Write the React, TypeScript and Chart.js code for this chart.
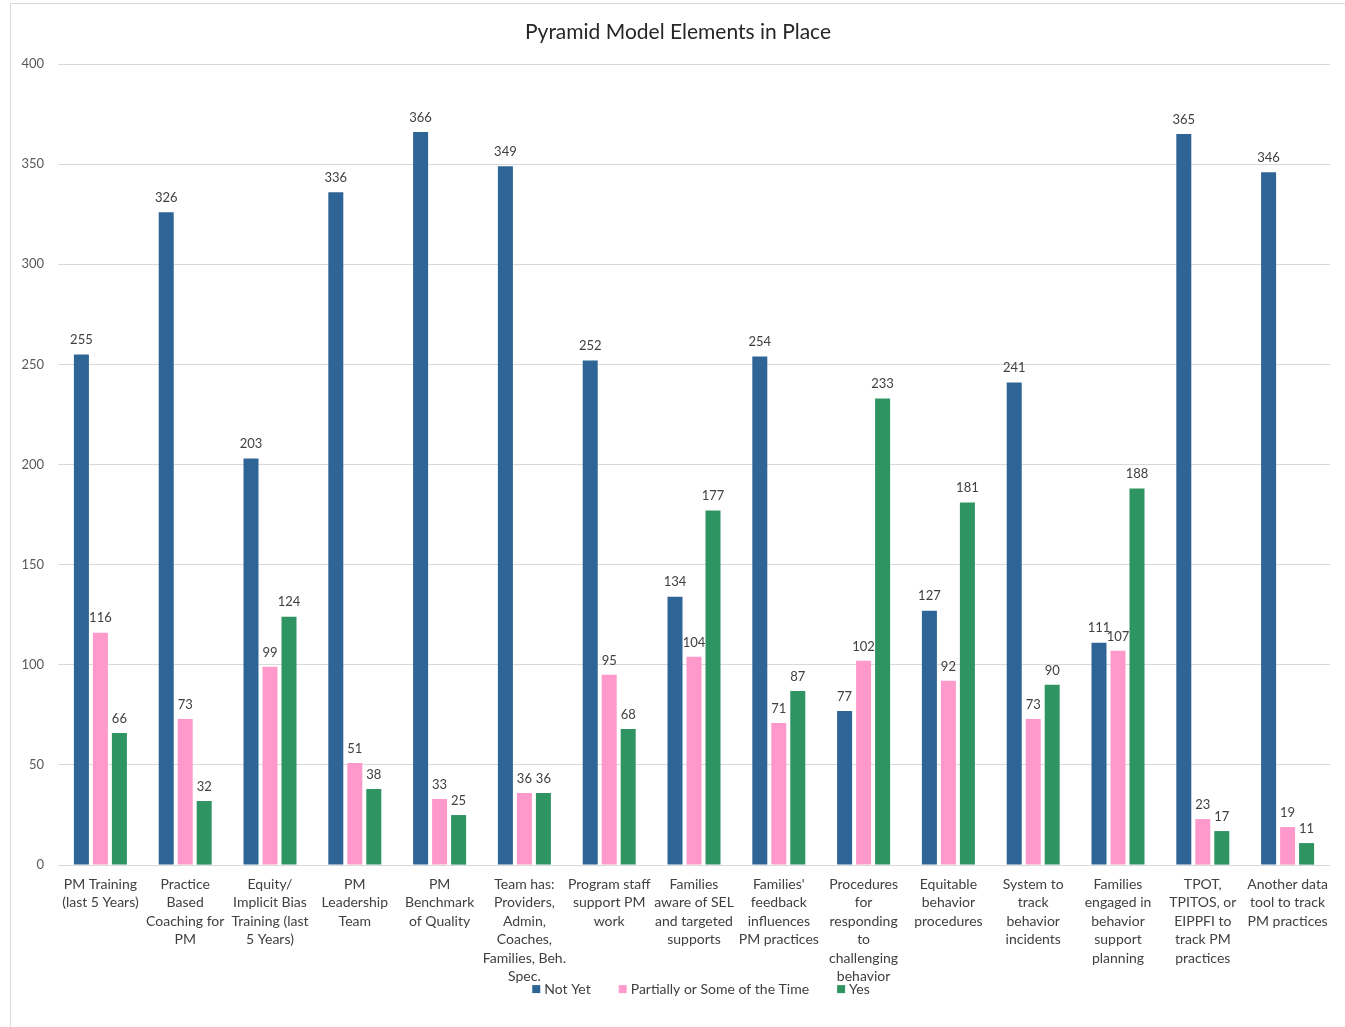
import React, { useEffect, useRef } from "react";
import { Chart, registerables } from "chart.js";

Chart.register(...registerables);

const chartTitle = "Pyramid Model Elements in Place";

const categories: string[][] = [
  ["PM Training", "(last 5 Years)"],
  ["Practice", "Based", "Coaching for", "PM"],
  ["Equity/", "Implicit Bias", "Training (last", "5 Years)"],
  ["PM", "Leadership", "Team"],
  ["PM", "Benchmark", "of Quality"],
  ["Team has:", "Providers,", "Admin,", "Coaches,", "Families, Beh.", "Spec."],
  ["Program staff", "support PM", "work"],
  ["Families", "aware of SEL", "and targeted", "supports"],
  ["Families'", "feedback", "influences", "PM practices"],
  ["Procedures", "for", "responding", "to", "challenging", "behavior"],
  ["Equitable", "behavior", "procedures"],
  ["System to", "track", "behavior", "incidents"],
  ["Families", "engaged in", "behavior", "support", "planning"],
  ["TPOT,", "TPITOS, or", "EIPPFI to", "track PM", "practices"],
  ["Another data", "tool to track", "PM practices"],
];

const notYet = [255, 326, 203, 336, 366, 349, 252, 134, 254, 77, 127, 241, 111, 365, 346];
const partially = [116, 73, 99, 51, 33, 36, 95, 104, 71, 102, 92, 73, 107, 23, 19];
const yes = [66, 32, 124, 38, 25, 36, 68, 177, 87, 233, 181, 90, 188, 17, 11];

const seriesNames = ["Not Yet", "Partially or Some of the Time", "Yes"];
const seriesColors = ["#2F6496", "#FF99CC", "#2E9462"];

const FONT = "Lato, 'Open Sans', sans-serif";
const TEXT = "#404040";

// Prints each bar's value just above its top edge
const valueLabels = {
  id: "valueLabels",
  afterDatasetsDraw(chart: any) {
    const ctx = chart.ctx;
    ctx.save();
    ctx.font = `13px ${FONT}`;
    ctx.fillStyle = TEXT;
    ctx.textAlign = "center";
    ctx.textBaseline = "bottom";
    chart.data.datasets.forEach((ds: any, i: number) => {
      const meta = chart.getDatasetMeta(i);
      meta.data.forEach((bar: any, j: number) => {
        ctx.fillText(String(ds.data[j]), bar.x, bar.y - 8);
      });
    });
    ctx.restore();
  },
};

// Compact legend row that sits tight under the tallest category names
const bottomLegend = {
  id: "bottomLegend",
  afterDraw(chart: any) {
    const ctx = chart.ctx;
    const area = chart.chartArea;
    const box = 8;
    const gapAfterBox = 4;
    const gapBetween = 28;
    ctx.save();
    ctx.font = `14px ${FONT}`;
    ctx.textBaseline = "middle";
    ctx.textAlign = "left";
    const items = chart.data.datasets.map((ds: any) => ({
      text: ds.label,
      color: ds.backgroundColor,
      w: box + gapAfterBox + ctx.measureText(ds.label).width,
    }));
    const total =
      items.reduce((s: number, it: any) => s + it.w, 0) + gapBetween * (items.length - 1);
    let x = (area.left + area.right) / 2 + 7 - total / 2;
    const y = area.bottom + 124;
    items.forEach((it: any) => {
      ctx.fillStyle = it.color;
      ctx.fillRect(x, y - box / 2, box, box);
      ctx.fillStyle = TEXT;
      ctx.fillText(it.text, x + box + gapAfterBox, y);
      x += it.w + gapBetween;
    });
    ctx.restore();
  },
};

export default function App() {
  const canvasRef = useRef<HTMLCanvasElement | null>(null);

  useEffect(() => {
    if (!canvasRef.current) return;
    const chart = new Chart(canvasRef.current, {
      type: "bar",
      data: {
        labels: categories,
        datasets: [notYet, partially, yes].map((d, i) => ({
          label: seriesNames[i],
          data: d,
          backgroundColor: seriesColors[i],
          categoryPercentage: 0.672,
          barPercentage: 0.79,
        })),
      },
      options: {
        animation: false,
        responsive: true,
        maintainAspectRatio: false,
        layout: { padding: { left: 0, right: 15, top: 60, bottom: 32 } },
        plugins: {
          title: { display: false },
          legend: { display: false },
          tooltip: { enabled: false },
        },
        scales: {
          x: {
            grid: { display: false, drawTicks: false },
            border: { display: false },
            ticks: {
              autoSkip: false,
              maxRotation: 0,
              color: TEXT,
              padding: 10,
              font: { family: FONT, size: 14, lineHeight: 1.32 },
            },
          },
          y: {
            min: 0,
            max: 400,
            grid: { color: "#D9D9D9", drawTicks: false },
            border: { display: false },
            afterFit: (scale: any) => {
              scale.width = 47;
            },
            ticks: {
              stepSize: 50,
              padding: 14,
              color: "#595959",
              font: { family: FONT, size: 13 },
            },
          },
        },
      },
      plugins: [valueLabels, bottomLegend],
    });
    return () => chart.destroy();
  }, []);

  return (
    <div
      style={{
        position: "absolute",
        left: 10,
        top: 3,
        width: 1334,
        height: 1024,
        borderLeft: "1px solid #D9D9D9",
        borderTop: "1px solid #D9D9D9",
        background: "#fff",
      }}
    >
      <div
        style={{
          position: "absolute",
          left: 0,
          right: 0,
          top: 14,
          textAlign: "center",
          fontFamily: FONT,
          fontSize: 21,
          lineHeight: "25px",
          color: "#262626",
        }}
      >
        {chartTitle}
      </div>
      <canvas ref={canvasRef} />
    </div>
  );
}
